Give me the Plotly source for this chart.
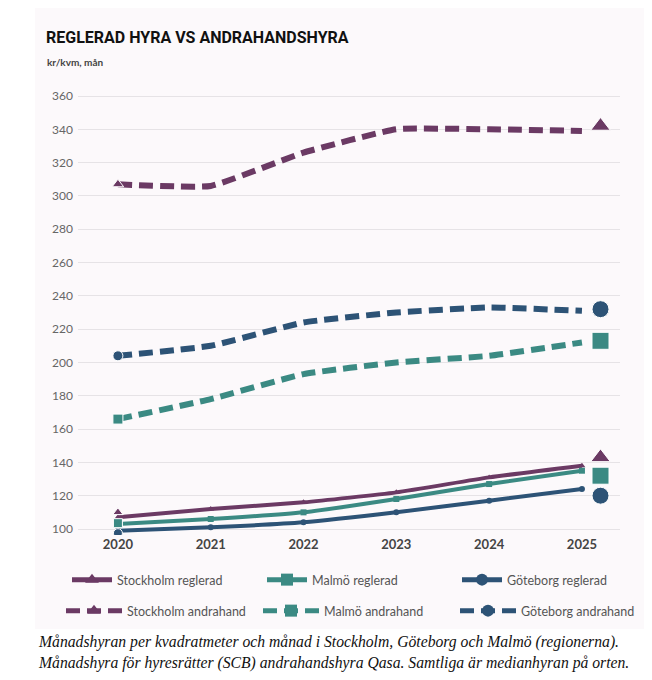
import plotly.graph_objects as go

# data
years = [2020, 2021, 2022, 2023, 2024, 2025]

sthlm_reglerad = [107, 112, 116, 122, 131, 138]
malmo_reglerad = [103, 106, 110, 118, 127, 135]
gbg_reglerad = [99, 101, 104, 110, 117, 124]

sthlm_andrahand = [307, 306, 326, 340, 340, 339]
malmo_andrahand = [166, 178, 193, 200, 204, 212]
gbg_andrahand = [204, 210, 224, 230, 233, 231]

# the big symbols to the right of the lines (label markers)
end_labels_reglerad = [143, 132, 120]
end_labels_andrahand = [342, 213, 232]
# the symbols at the start of each line
start_labels_reglerad = [110, 103.5, 97.5]
start_labels_andrahand = [307, 166, 204]

y_ticks = [100, 120, 140, 160, 180, 200, 220, 240, 260, 280, 300, 320, 340, 360]

# styling
# the page body has an 8px margin, so everything is drawn 8px up/left
OFF = 8
W, H = 644, 672
ML, MT = 70, 82
PLOT_W, PLOT_H = 542, 445
MR = W - ML - PLOT_W
MB = H - MT - PLOT_H

PURPLE = "#6b3a64"
TEAL = "#3b8a83"
NAVY = "#2d5376"
CARD = "#fcf9fb"
GRID = "#e6e3e6"
SANS = "Lato, 'Noto Sans', sans-serif"


def px_x(p):
    # window pixel -> paper x
    return (p - OFF - ML) / PLOT_W


def px_y(p):
    # window pixel -> paper y
    return (H - MB - (p - OFF)) / PLOT_H


END_X = 2025.2  # end labels sit right of the last year

fig = go.Figure()

series = [
    ("Stockholm", sthlm_reglerad, sthlm_andrahand, PURPLE, "triangle-up"),
    ("Malmö", malmo_reglerad, malmo_andrahand, TEAL, "square"),
    ("Göteborg", gbg_reglerad, gbg_andrahand, NAVY, "circle"),
]

for city, regl, andra, color, sym in series:
    fig.add_trace(go.Scatter(
        x=years, y=regl, name=f"{city} reglerad",
        mode="lines+markers",
        line=dict(color=color, width=4, shape="spline", smoothing=0.5),
        marker=dict(symbol=sym, size=6, color=color),
        legend="legend",
    ))

for city, regl, andra, color, sym in series:
    fig.add_trace(go.Scatter(
        x=years, y=andra, name=f"{city} andrahand",
        mode="lines+markers",
        line=dict(color=color, width=6, dash="14px,7px", shape="spline", smoothing=0.4),
        marker=dict(symbol=sym, size=0.1, color=color),
        legend="legend2",
    ))

# start and end symbols
for i, (city, regl, andra, color, sym) in enumerate(series):
    fig.add_trace(go.Scatter(
        x=[years[0], years[0], END_X, END_X],
        y=[start_labels_reglerad[i], start_labels_andrahand[i],
           end_labels_reglerad[i], end_labels_andrahand[i]],
        mode="markers", showlegend=False, hoverinfo="skip",
        marker=dict(symbol=sym, color=color, size=[9, 10, 17, 17], opacity=1),
    ))

# background card
fig.add_shape(type="rect", xref="paper", yref="paper", layer="below",
              x0=px_x(35), x1=px_x(645), y0=px_y(629), y1=px_y(8),
              fillcolor=CARD, line=dict(width=0))

fig.add_annotation(xref="paper", yref="paper", x=px_x(44), y=px_y(38),
                   xanchor="left", yanchor="middle", showarrow=False,
                   text="<b>REGLERAD HYRA VS ANDRAHANDSHYRA</b>",
                   font=dict(family="Roboto, sans-serif", size=16, weight=900,
                             color="#111111"))
fig.add_annotation(xref="paper", yref="paper", x=px_x(45), y=px_y(62),
                   xanchor="left", yanchor="middle", showarrow=False,
                   text="<b>kr/kvm, mån</b>",
                   font=dict(family=SANS, size=10, color="#444444"))

captions = [
    "Månadshyran per kvadratmeter och månad i Stockholm, Göteborg och Malmö (regionerna).",
    "Månadshyra för hyresrätter (SCB) andrahandshyra Qasa. Samtliga är medianhyran på orten.",
]
for k, line in enumerate(captions):
    fig.add_annotation(xref="paper", yref="paper", x=px_x(36), y=px_y(642 + 21 * k),
                       xanchor="left", yanchor="middle", showarrow=False, text=line,
                       font=dict(family="'Liberation Serif', serif", size=15.7,
                                 color="#111111", style="italic"))

legend_style = dict(
    orientation="h", xanchor="left", yanchor="middle",
    font=dict(family=SANS, size=12.5, color="#555555"),
    bgcolor="rgba(0,0,0,0)", itemsizing="constant",
)

fig.update_layout(
    width=W, height=H,
    margin=dict(l=ML, r=MR, t=MT, b=MB),
    paper_bgcolor="white", plot_bgcolor=CARD,
    showlegend=True,
    legend=dict(x=px_x(72), y=px_y(580), entrywidth=140, itemwidth=40, **legend_style),
    legend2=dict(x=px_x(73), y=px_y(611), entrywidth=126, itemwidth=56, **legend_style),
    xaxis=dict(
        range=[2019.57, 2025.41], tickvals=years,
        ticktext=[f"<b>{y}</b>" for y in years],
        showgrid=False, zeroline=False, showline=False,
        tickfont=dict(family=SANS, size=13, color="#444444"),
    ),
    yaxis=dict(
        range=[96.4, 363.6], tickvals=y_ticks,
        gridcolor=GRID, gridwidth=1, zeroline=False, showline=False,
        tickfont=dict(family=SANS, size=12, color="#666666"),
        ticklabelstandoff=4,
    ),
)

fig.write_html("out.html")
